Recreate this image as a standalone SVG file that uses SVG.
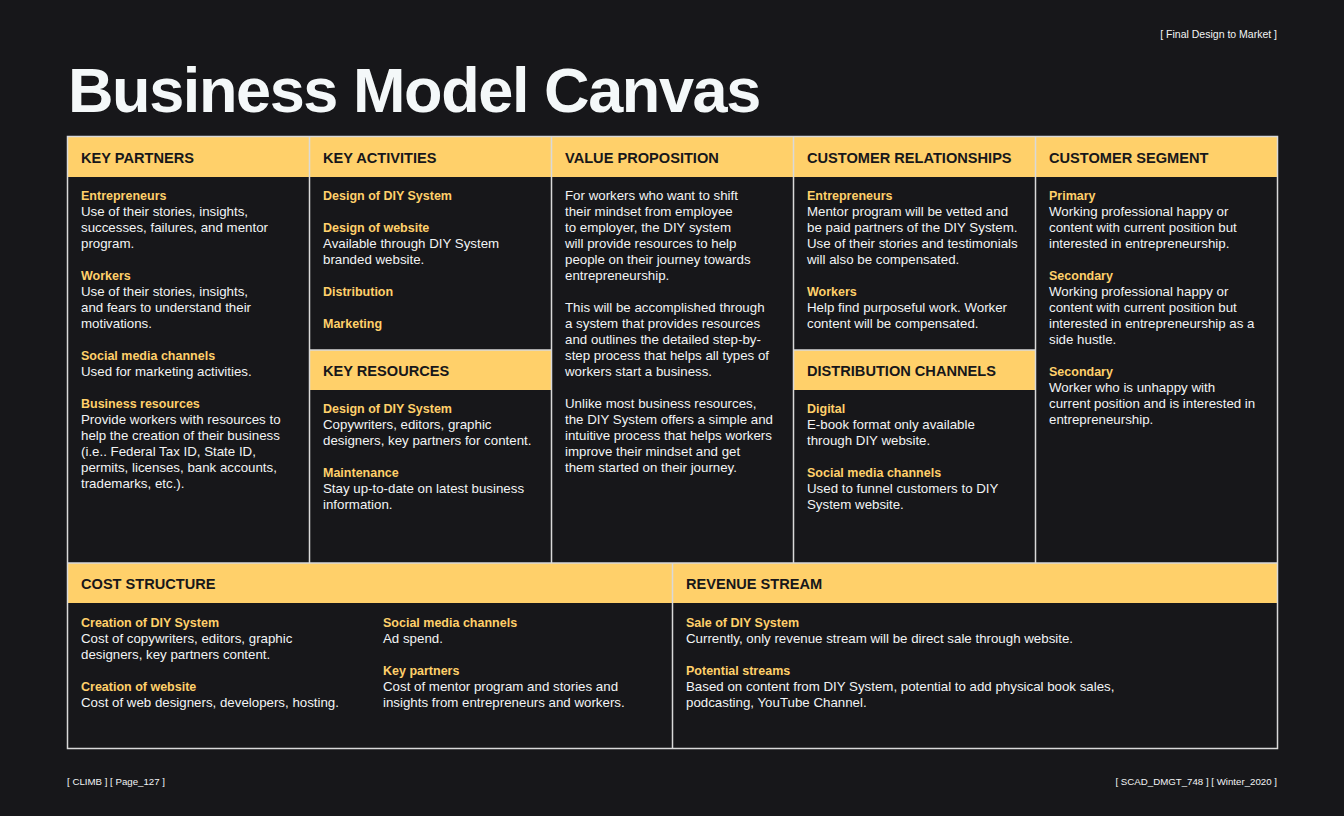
<svg xmlns="http://www.w3.org/2000/svg" width="1344" height="816" viewBox="0 0 1344 816">
<style>
text{font-family:"Liberation Sans",Arial,sans-serif}
.bg{fill:#17171a}
.band{fill:#ffd06a}
.ln{stroke:#d9d9d9;stroke-width:1.5;fill:none}
.title{font-size:63px;font-weight:700;fill:#f4f8f9;letter-spacing:-1.4px}
.h{font-size:14.6px;font-weight:700;fill:#17171a}
.s{font-size:12.5px;font-weight:700;fill:#ffd06a}
.b{font-size:13.3px;fill:#f2f4f5}
.ft{font-size:9.7px;fill:#f2f4f5}
.ft2{font-size:10.5px;fill:#f2f4f5}
</style>
<rect class="bg" x="0" y="0" width="1344" height="816"/>
<text class="ft2" x="1277" y="38" text-anchor="end">[ Final Design to Market  ]</text>
<text class="title" x="68" y="112">Business Model Canvas</text>

<g id="bands">
<rect class="band" x="67" y="137" width="1210" height="40"/>
<rect class="band" x="309" y="350" width="242" height="40"/>
<rect class="band" x="793" y="350" width="242" height="40"/>
<rect class="band" x="67" y="563" width="1210" height="40"/>
</g>

<g id="grid">
<rect class="ln" x="67.5" y="136.5" width="1210" height="612"/>
<line class="ln" x1="309.5" y1="136.5" x2="309.5" y2="563"/>
<line class="ln" x1="551.5" y1="136.5" x2="551.5" y2="563"/>
<line class="ln" x1="793.5" y1="136.5" x2="793.5" y2="563"/>
<line class="ln" x1="1035.5" y1="136.5" x2="1035.5" y2="563"/>
<line class="ln" x1="309.5" y1="350" x2="551.5" y2="350"/>
<line class="ln" x1="793.5" y1="350" x2="1035.5" y2="350"/>
<line class="ln" x1="67.5" y1="563" x2="1277.5" y2="563"/>
<line class="ln" x1="672.5" y1="563" x2="672.5" y2="748.5"/>
</g>

<g id="key-partners">
<text class="h" x="81" y="163">KEY PARTNERS</text>
<text class="s" x="81" y="200">Entrepreneurs</text>
<text class="b" x="81" y="216">Use of their stories, insights,</text>
<text class="b" x="81" y="232">successes, failures, and mentor</text>
<text class="b" x="81" y="248">program.</text>
<text class="s" x="81" y="280">Workers</text>
<text class="b" x="81" y="296">Use of their stories, insights,</text>
<text class="b" x="81" y="312">and fears to understand their</text>
<text class="b" x="81" y="328">motivations.</text>
<text class="s" x="81" y="360">Social media channels</text>
<text class="b" x="81" y="376">Used for marketing activities.</text>
<text class="s" x="81" y="408">Business resources</text>
<text class="b" x="81" y="424">Provide workers with resources to</text>
<text class="b" x="81" y="440">help the creation of their business</text>
<text class="b" x="81" y="456">(i.e.. Federal Tax ID, State ID,</text>
<text class="b" x="81" y="472">permits, licenses, bank accounts,</text>
<text class="b" x="81" y="488">trademarks, etc.).</text>
</g>

<g id="key-activities">
<text class="h" x="323" y="163">KEY ACTIVITIES</text>
<text class="s" x="323" y="200">Design of DIY System</text>
<text class="s" x="323" y="232">Design of website</text>
<text class="b" x="323" y="248">Available through DIY System</text>
<text class="b" x="323" y="264">branded website.</text>
<text class="s" x="323" y="296">Distribution</text>
<text class="s" x="323" y="328">Marketing</text>
</g>

<g id="key-resources">
<text class="h" x="323" y="376">KEY RESOURCES</text>
<text class="s" x="323" y="413">Design of DIY System</text>
<text class="b" x="323" y="429">Copywriters, editors, graphic</text>
<text class="b" x="323" y="445">designers, key partners for content.</text>
<text class="s" x="323" y="477">Maintenance</text>
<text class="b" x="323" y="493">Stay up-to-date on latest business</text>
<text class="b" x="323" y="509">information.</text>
</g>

<g id="value-proposition">
<text class="h" x="565" y="163">VALUE PROPOSITION</text>
<text class="b" x="565" y="200">For workers who want to shift</text>
<text class="b" x="565" y="216">their mindset from employee</text>
<text class="b" x="565" y="232">to employer, the DIY system</text>
<text class="b" x="565" y="248">will provide resources to help</text>
<text class="b" x="565" y="264">people on their journey towards</text>
<text class="b" x="565" y="280">entrepreneurship.</text>
<text class="b" x="565" y="312">This will be accomplished through</text>
<text class="b" x="565" y="328">a system that provides resources</text>
<text class="b" x="565" y="344">and outlines the detailed step-by-</text>
<text class="b" x="565" y="360">step process that helps all types of</text>
<text class="b" x="565" y="376">workers start a business.</text>
<text class="b" x="565" y="408">Unlike most business resources,</text>
<text class="b" x="565" y="424">the DIY System offers a simple and</text>
<text class="b" x="565" y="440">intuitive process that helps workers</text>
<text class="b" x="565" y="456">improve their mindset and get</text>
<text class="b" x="565" y="472">them started on their journey.</text>
</g>

<g id="customer-relationships">
<text class="h" x="807" y="163">CUSTOMER RELATIONSHIPS</text>
<text class="s" x="807" y="200">Entrepreneurs</text>
<text class="b" x="807" y="216">Mentor program will be vetted and</text>
<text class="b" x="807" y="232">be paid partners of the DIY System.</text>
<text class="b" x="807" y="248">Use of their stories and testimonials</text>
<text class="b" x="807" y="264">will also be compensated.</text>
<text class="s" x="807" y="296">Workers</text>
<text class="b" x="807" y="312">Help find purposeful work. Worker</text>
<text class="b" x="807" y="328">content will be compensated.</text>
</g>

<g id="distribution-channels">
<text class="h" x="807" y="376">DISTRIBUTION CHANNELS</text>
<text class="s" x="807" y="413">Digital</text>
<text class="b" x="807" y="429">E-book format only available</text>
<text class="b" x="807" y="445">through DIY website.</text>
<text class="s" x="807" y="477">Social media channels</text>
<text class="b" x="807" y="493">Used to funnel customers to DIY</text>
<text class="b" x="807" y="509">System website.</text>
</g>

<g id="customer-segment">
<text class="h" x="1049" y="163">CUSTOMER SEGMENT</text>
<text class="s" x="1049" y="200">Primary</text>
<text class="b" x="1049" y="216">Working professional happy or</text>
<text class="b" x="1049" y="232">content with current position but</text>
<text class="b" x="1049" y="248">interested in entrepreneurship.</text>
<text class="s" x="1049" y="280">Secondary</text>
<text class="b" x="1049" y="296">Working professional happy or</text>
<text class="b" x="1049" y="312">content with current position but</text>
<text class="b" x="1049" y="328">interested in entrepreneurship as a</text>
<text class="b" x="1049" y="344">side hustle.</text>
<text class="s" x="1049" y="376">Secondary</text>
<text class="b" x="1049" y="392">Worker who is unhappy with</text>
<text class="b" x="1049" y="408">current position and is interested in</text>
<text class="b" x="1049" y="424">entrepreneurship.</text>
</g>

<g id="cost-structure">
<text class="h" x="81" y="589">COST STRUCTURE</text>
<text class="s" x="81" y="627">Creation of DIY System</text>
<text class="b" x="81" y="643">Cost of copywriters, editors, graphic</text>
<text class="b" x="81" y="659">designers, key partners content.</text>
<text class="s" x="81" y="691">Creation of website</text>
<text class="b" x="81" y="707">Cost of web designers, developers, hosting.</text>
<text class="s" x="383" y="627">Social media channels</text>
<text class="b" x="383" y="643">Ad spend.</text>
<text class="s" x="383" y="675">Key partners</text>
<text class="b" x="383" y="691">Cost of mentor program and stories and</text>
<text class="b" x="383" y="707">insights from entrepreneurs and workers.</text>
</g>

<g id="revenue-stream">
<text class="h" x="686" y="589">REVENUE STREAM</text>
<text class="s" x="686" y="627">Sale of DIY System</text>
<text class="b" x="686" y="643">Currently, only revenue stream will be direct sale through website.</text>
<text class="s" x="686" y="675">Potential streams</text>
<text class="b" x="686" y="691">Based on content from DIY System, potential to add physical book sales,</text>
<text class="b" x="686" y="707">podcasting, YouTube Channel.</text>
</g>

<text class="ft" x="67" y="785">[ CLIMB ] [ Page_127 ]</text>
<text class="ft" x="1277" y="785" text-anchor="end">[ SCAD_DMGT_748 ] [ Winter_2020 ]</text>
</svg>
